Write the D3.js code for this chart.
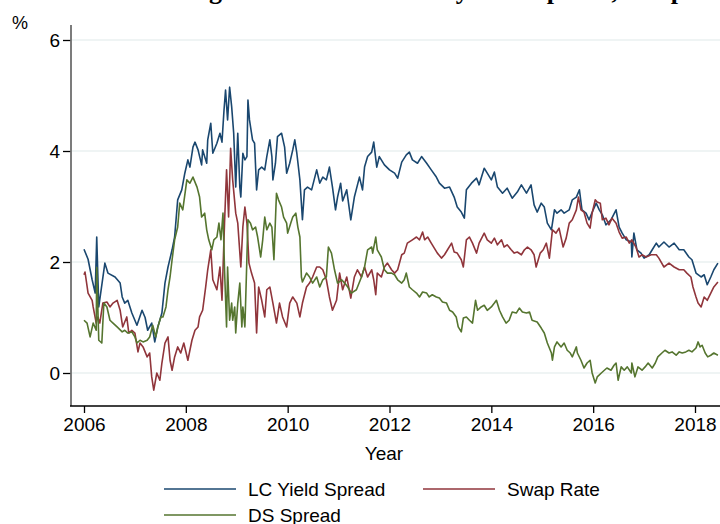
<!DOCTYPE html>
<html>
<head>
<meta charset="utf-8">
<script src="https://cdn.jsdelivr.net/npm/d3@7"></script>
<style>
  html, body { margin: 0; padding: 0; background: #ffffff; }
  svg { display: block; }
  text { font-family: "Liberation Sans", Arial, sans-serif; fill: #000; }
</style>
</head>
<body>
<svg id="chart" width="720" height="524"></svg>
<script>
// Weekly-sampled spreads, in percent; each entry is [decimal year, value].
const lcYieldSpread = [
  [2006.00,2.23],[2006.08,2.05],[2006.16,1.68],[2006.22,1.44],[2006.25,2.45],[2006.29,1.19],[2006.41,1.98],[2006.47,1.80],
  [2006.61,1.73],[2006.71,1.62],[2006.75,1.37],[2006.80,1.26],[2006.86,1.31],[2006.94,1.08],[2007.04,0.86],[2007.14,1.13],
  [2007.20,1.00],[2007.25,0.77],[2007.33,0.90],[2007.39,0.56],[2007.45,0.83],[2007.53,1.08],[2007.59,1.62],[2007.65,1.91],
  [2007.73,2.22],[2007.78,2.45],[2007.84,3.12],[2007.92,3.30],[2007.98,3.60],[2008.04,3.84],[2008.08,3.71],[2008.14,4.07],
  [2008.18,4.16],[2008.24,4.02],[2008.31,3.75],[2008.33,4.02],[2008.41,3.78],[2008.43,4.20],[2008.49,4.50],[2008.53,3.96],
  [2008.61,4.14],[2008.67,4.32],[2008.71,4.16],[2008.75,4.74],[2008.78,5.10],[2008.82,4.56],[2008.86,5.15],[2008.90,4.80],
  [2008.94,4.32],[2008.98,3.35],[2009.02,4.32],[2009.06,3.35],[2009.08,3.17],[2009.12,3.96],[2009.16,3.84],[2009.20,3.90],
  [2009.22,4.92],[2009.25,4.56],[2009.31,4.20],[2009.35,4.14],[2009.39,3.30],[2009.43,3.66],[2009.49,3.71],[2009.55,3.66],
  [2009.59,3.90],[2009.65,4.20],[2009.69,3.90],[2009.71,3.48],[2009.76,3.78],[2009.80,4.26],[2009.88,4.32],[2009.94,4.07],
  [2009.98,3.60],[2010.04,3.78],[2010.10,4.02],[2010.14,4.20],[2010.18,3.96],[2010.24,3.48],[2010.29,2.76],[2010.33,3.30],
  [2010.39,3.35],[2010.47,3.30],[2010.57,3.66],[2010.63,3.42],[2010.69,3.53],[2010.76,3.48],[2010.82,3.71],[2010.88,3.35],
  [2010.94,2.94],[2010.98,3.17],[2011.04,3.42],[2011.08,3.10],[2011.16,3.30],[2011.24,2.76],[2011.31,3.17],[2011.41,3.53],
  [2011.47,3.30],[2011.51,3.71],[2011.57,3.90],[2011.65,3.98],[2011.69,4.16],[2011.75,3.71],[2011.80,3.90],[2011.90,3.75],
  [2012.00,3.66],[2012.10,3.60],[2012.16,3.51],[2012.24,3.80],[2012.33,3.93],[2012.39,3.98],[2012.45,3.84],[2012.55,3.78],
  [2012.63,3.90],[2012.73,3.78],[2012.82,3.66],[2012.92,3.53],[2012.98,3.42],[2013.08,3.33],[2013.18,3.35],[2013.27,3.17],
  [2013.33,2.99],[2013.41,2.90],[2013.47,2.79],[2013.51,3.30],[2013.61,3.42],[2013.71,3.51],[2013.76,3.39],[2013.86,3.69],
  [2013.92,3.60],[2014.00,3.48],[2014.06,3.62],[2014.12,3.35],[2014.22,3.24],[2014.31,3.33],[2014.41,3.15],[2014.51,3.26],
  [2014.59,3.39],[2014.69,3.24],[2014.78,3.39],[2014.84,3.03],[2014.90,2.90],[2014.98,3.06],[2015.04,2.99],[2015.10,2.70],
  [2015.18,2.58],[2015.24,2.94],[2015.29,2.88],[2015.37,2.94],[2015.43,2.88],[2015.53,2.94],[2015.59,3.12],[2015.67,3.17],
  [2015.73,3.30],[2015.78,2.94],[2015.86,2.88],[2015.92,2.76],[2016.00,2.94],[2016.06,3.06],[2016.12,2.94],[2016.18,2.85],
  [2016.25,2.67],[2016.35,2.76],[2016.45,2.94],[2016.51,2.63],[2016.57,2.52],[2016.65,2.40],[2016.75,2.36],[2016.76,2.09],
  [2016.80,2.52],[2016.86,2.22],[2016.94,2.16],[2017.00,2.07],[2017.10,2.13],[2017.16,2.22],[2017.24,2.34],[2017.29,2.27],
  [2017.39,2.36],[2017.49,2.27],[2017.59,2.34],[2017.69,2.22],[2017.78,2.22],[2017.88,2.09],[2017.94,2.04],[2018.02,1.80],
  [2018.12,1.73],[2018.18,1.77],[2018.24,1.59],[2018.31,1.73],[2018.37,1.86],[2018.45,1.98]
];

const swapRate = [
  [2006.00,1.77],[2006.02,1.82],[2006.08,1.44],[2006.16,1.31],[2006.18,1.19],[2006.24,0.90],[2006.27,1.01],[2006.31,0.90],
  [2006.37,1.26],[2006.45,1.28],[2006.51,1.19],[2006.57,1.26],[2006.65,1.31],[2006.71,1.13],[2006.76,0.83],[2006.84,1.01],
  [2006.88,0.72],[2006.94,0.77],[2007.00,0.72],[2007.06,0.38],[2007.10,0.54],[2007.16,0.47],[2007.24,0.29],[2007.29,0.36],
  [2007.33,-0.07],[2007.37,-0.31],[2007.43,0.00],[2007.49,-0.13],[2007.53,0.18],[2007.59,0.54],[2007.65,0.65],[2007.69,0.23],
  [2007.73,0.05],[2007.78,0.29],[2007.84,0.47],[2007.90,0.36],[2007.96,0.54],[2008.04,0.23],[2008.12,0.59],[2008.18,0.77],
  [2008.24,0.83],[2008.27,1.01],[2008.33,1.13],[2008.39,1.55],[2008.43,1.86],[2008.49,2.22],[2008.53,1.68],[2008.61,1.50],
  [2008.67,1.91],[2008.71,1.31],[2008.76,2.70],[2008.80,3.66],[2008.84,2.81],[2008.88,4.05],[2008.92,3.48],[2008.98,2.88],
  [2009.02,2.70],[2009.08,1.91],[2009.12,2.63],[2009.16,2.99],[2009.20,2.70],[2009.24,1.98],[2009.29,1.80],[2009.35,1.62],
  [2009.39,0.72],[2009.43,1.55],[2009.49,1.31],[2009.55,1.01],[2009.59,1.50],[2009.65,1.55],[2009.71,1.26],[2009.78,0.90],
  [2009.84,1.26],[2009.90,1.01],[2009.98,0.83],[2010.04,1.26],[2010.10,1.37],[2010.18,1.26],[2010.24,1.01],[2010.29,1.26],
  [2010.37,1.55],[2010.43,1.62],[2010.49,1.73],[2010.57,1.91],[2010.63,1.91],[2010.69,1.86],[2010.76,1.68],[2010.82,1.37],
  [2010.88,1.13],[2010.96,1.31],[2011.02,1.80],[2011.08,1.50],[2011.16,1.73],[2011.24,1.35],[2011.31,1.73],[2011.37,1.86],
  [2011.45,1.73],[2011.51,1.91],[2011.57,1.73],[2011.65,1.86],[2011.69,1.68],[2011.73,1.41],[2011.76,1.80],[2011.84,1.73],
  [2011.90,1.91],[2011.96,1.98],[2012.04,1.86],[2012.10,1.80],[2012.16,1.86],[2012.24,2.13],[2012.29,2.16],[2012.35,2.34],
  [2012.45,2.40],[2012.53,2.45],[2012.59,2.40],[2012.65,2.54],[2012.69,2.40],[2012.75,2.45],[2012.82,2.34],[2012.88,2.25],
  [2012.94,2.16],[2013.02,2.07],[2013.08,2.13],[2013.14,2.22],[2013.22,2.34],[2013.27,2.18],[2013.33,2.16],[2013.41,2.04],
  [2013.45,1.91],[2013.51,2.40],[2013.57,2.45],[2013.63,2.34],[2013.71,2.16],[2013.76,2.34],[2013.86,2.52],[2013.92,2.40],
  [2014.00,2.34],[2014.06,2.43],[2014.12,2.31],[2014.20,2.40],[2014.25,2.27],[2014.31,2.31],[2014.39,2.22],[2014.45,2.16],
  [2014.51,2.18],[2014.59,2.13],[2014.65,2.22],[2014.71,2.27],[2014.78,2.22],[2014.84,2.13],[2014.88,1.91],[2014.96,2.16],
  [2015.02,2.22],[2015.08,2.34],[2015.14,2.07],[2015.20,2.58],[2015.27,2.52],[2015.33,2.61],[2015.41,2.27],[2015.47,2.43],
  [2015.53,2.70],[2015.59,2.76],[2015.67,2.94],[2015.71,3.17],[2015.76,2.94],[2015.82,2.90],[2015.88,2.70],[2015.94,2.61],
  [2015.98,2.88],[2016.04,3.12],[2016.08,3.08],[2016.14,3.06],[2016.18,2.76],[2016.25,2.79],[2016.31,2.67],[2016.37,2.79],
  [2016.45,2.70],[2016.51,2.54],[2016.57,2.43],[2016.65,2.45],[2016.71,2.34],[2016.76,2.40],[2016.84,2.27],[2016.90,2.09],
  [2016.96,2.13],[2017.04,2.09],[2017.14,2.13],[2017.24,2.13],[2017.29,2.07],[2017.39,1.91],[2017.49,1.98],[2017.59,1.91],
  [2017.69,1.86],[2017.78,1.86],[2017.84,1.80],[2017.92,1.73],[2017.96,1.55],[2018.02,1.37],[2018.06,1.26],[2018.12,1.19],
  [2018.18,1.37],[2018.24,1.31],[2018.31,1.44],[2018.37,1.55],[2018.45,1.64]
];

const dsSpread = [
  [2006.00,0.95],[2006.06,0.90],[2006.12,0.65],[2006.18,0.90],[2006.24,0.77],[2006.25,1.90],[2006.29,0.59],[2006.35,0.54],
  [2006.39,1.26],[2006.45,1.19],[2006.51,0.95],[2006.57,0.90],[2006.65,0.83],[2006.75,0.74],[2006.80,0.77],[2006.86,0.72],
  [2006.94,0.74],[2007.00,0.65],[2007.04,0.54],[2007.10,0.59],[2007.16,0.56],[2007.24,0.59],[2007.29,0.65],[2007.35,0.86],
  [2007.41,0.65],[2007.45,0.83],[2007.51,1.01],[2007.55,1.01],[2007.61,1.19],[2007.65,1.50],[2007.69,1.73],[2007.73,2.04],
  [2007.78,2.40],[2007.84,2.63],[2007.88,3.06],[2007.94,2.94],[2008.02,3.48],[2008.08,3.42],[2008.14,3.53],[2008.22,3.35],
  [2008.27,3.17],[2008.31,2.81],[2008.37,2.88],[2008.41,2.58],[2008.45,2.40],[2008.51,2.22],[2008.55,2.40],[2008.61,2.45],
  [2008.65,2.70],[2008.69,2.40],[2008.73,2.88],[2008.76,1.86],[2008.80,0.83],[2008.82,1.91],[2008.86,0.95],[2008.90,1.26],
  [2008.92,0.95],[2008.96,1.19],[2008.98,0.72],[2009.02,1.26],[2009.06,1.62],[2009.10,0.83],[2009.12,1.19],[2009.16,0.83],
  [2009.20,2.09],[2009.22,2.76],[2009.27,2.70],[2009.31,2.58],[2009.37,2.63],[2009.41,2.45],[2009.47,2.09],[2009.51,2.40],
  [2009.55,2.81],[2009.59,2.58],[2009.65,2.70],[2009.69,2.63],[2009.73,2.04],[2009.78,3.24],[2009.82,3.12],[2009.88,2.99],
  [2009.92,2.81],[2009.98,2.70],[2010.00,2.52],[2010.06,2.70],[2010.10,2.81],[2010.16,2.88],[2010.20,2.63],[2010.24,2.45],
  [2010.27,1.73],[2010.29,1.64],[2010.37,1.80],[2010.43,1.73],[2010.49,1.62],[2010.57,1.73],[2010.63,1.55],[2010.69,1.68],
  [2010.76,1.73],[2010.80,2.27],[2010.86,2.16],[2010.92,1.86],[2010.98,1.62],[2011.06,1.68],[2011.12,1.62],[2011.18,1.55],
  [2011.25,1.44],[2011.35,1.50],[2011.45,1.73],[2011.51,1.91],[2011.57,2.22],[2011.65,2.27],[2011.67,2.16],[2011.73,2.45],
  [2011.76,2.22],[2011.84,2.09],[2011.90,1.86],[2011.96,1.80],[2012.04,1.80],[2012.10,1.77],[2012.16,1.68],[2012.24,1.62],
  [2012.29,1.68],[2012.33,1.80],[2012.39,1.55],[2012.45,1.50],[2012.53,1.44],[2012.59,1.37],[2012.65,1.46],[2012.73,1.44],
  [2012.78,1.37],[2012.84,1.41],[2012.92,1.37],[2012.98,1.35],[2013.04,1.28],[2013.12,1.26],[2013.18,1.13],[2013.24,1.10],
  [2013.31,1.01],[2013.35,0.83],[2013.41,0.74],[2013.45,0.99],[2013.51,1.01],[2013.57,0.95],[2013.63,0.90],[2013.69,1.31],
  [2013.73,1.13],[2013.80,1.19],[2013.86,1.22],[2013.92,1.13],[2014.00,1.19],[2014.06,1.26],[2014.10,1.31],[2014.16,1.13],
  [2014.22,1.01],[2014.29,0.90],[2014.35,0.95],[2014.41,1.10],[2014.49,1.08],[2014.55,1.17],[2014.61,1.10],[2014.69,1.08],
  [2014.75,1.10],[2014.80,0.95],[2014.90,0.92],[2014.98,0.81],[2015.04,0.72],[2015.10,0.54],[2015.18,0.36],[2015.20,0.23],
  [2015.24,0.47],[2015.29,0.56],[2015.37,0.47],[2015.43,0.54],[2015.49,0.41],[2015.55,0.36],[2015.59,0.29],[2015.67,0.47],
  [2015.69,0.36],[2015.76,0.23],[2015.82,0.09],[2015.88,0.18],[2015.94,0.23],[2015.98,0.00],[2016.04,-0.18],[2016.08,-0.07],
  [2016.16,0.00],[2016.22,0.05],[2016.27,0.09],[2016.35,0.05],[2016.41,0.14],[2016.45,0.18],[2016.49,-0.13],[2016.55,0.11],
  [2016.61,0.05],[2016.67,0.11],[2016.75,0.00],[2016.76,0.18],[2016.82,-0.07],[2016.88,0.11],[2016.96,0.05],[2017.02,0.11],
  [2017.08,0.18],[2017.16,0.09],[2017.22,0.18],[2017.27,0.29],[2017.35,0.36],[2017.41,0.41],[2017.49,0.36],[2017.55,0.38],
  [2017.63,0.32],[2017.69,0.38],[2017.75,0.36],[2017.82,0.38],[2017.88,0.41],[2017.94,0.38],[2018.02,0.45],[2018.06,0.56],
  [2018.10,0.47],[2018.14,0.50],[2018.20,0.36],[2018.25,0.29],[2018.31,0.32],[2018.37,0.36],[2018.45,0.32]
];

const yearTicks = [2006, 2008, 2010, 2012, 2014, 2016, 2018];
const valueTicks = [0, 2, 4, 6];
const seriesNames = ["LC Yield Spread", "Swap Rate", "DS Spread"];
const seriesColors = ["#1a476f", "#90353b", "#55752f"];

const svg = d3.select("#chart");

// Plot area; the right edge runs past the window.
const x = d3.scaleLinear().domain([2006, 2018]).range([84, 695]);
const y = d3.scaleLinear().domain([0, 6]).range([373, 40]);
const plotLeft = 71, plotRight = 760, plotTop = 25, plotBottom = 406;

// Title (top of the canvas)
svg.append("text")
  .attr("x", 186)
  .attr("y", -1)
  .style("font-family", "'Liberation Serif', 'Times New Roman', serif")
  .style("font-weight", "bold")
  .style("font-size", "26px")
  .text("Figure 2: Local Currency Risk Spread, Swap Rate and DS Spread");

// Horizontal gridlines
svg.append("g")
  .selectAll("line")
  .data(valueTicks)
  .join("line")
  .attr("x1", plotLeft + 1)
  .attr("x2", plotRight)
  .attr("y1", d => y(d))
  .attr("y2", d => y(d))
  .attr("stroke", "#eaf0f1")
  .attr("stroke-width", 1.6);

// Y axis
const yAxis = d3.axisLeft(y).tickValues(valueTicks).tickSize(8).tickPadding(3).tickFormat(d3.format("d"));
const gy = svg.append("g").attr("transform", `translate(${plotLeft},0)`).call(yAxis);
gy.select(".domain").remove();
gy.selectAll(".tick line").attr("stroke", "#000").attr("stroke-width", 1.3);
gy.selectAll(".tick text").style("font-size", "19px").style("font-family", "'Liberation Sans', Arial, sans-serif").attr("fill", "#000");
svg.append("line")
  .attr("x1", plotLeft).attr("x2", plotLeft)
  .attr("y1", plotTop).attr("y2", plotBottom)
  .attr("stroke", "#6e6e6e").attr("stroke-width", 1.8);

// X axis
const xAxis = d3.axisBottom(x).tickValues(yearTicks).tickSize(7).tickPadding(5).tickFormat(d3.format("d"));
const gx = svg.append("g").attr("transform", `translate(0,${plotBottom})`).call(xAxis);
gx.select(".domain").remove();
gx.selectAll(".tick line").attr("stroke", "#000").attr("stroke-width", 1.3);
gx.selectAll(".tick text").style("font-size", "19px").style("font-family", "'Liberation Sans', Arial, sans-serif").attr("fill", "#000");
svg.append("line")
  .attr("x1", plotLeft - 1).attr("x2", plotRight)
  .attr("y1", plotBottom).attr("y2", plotBottom)
  .attr("stroke", "#000").attr("stroke-width", 1.5);

// Axis titles
svg.append("text").attr("x", 20).attr("y", 29).attr("text-anchor", "middle")
  .style("font-size", "18px").text("%");
svg.append("text").attr("x", 384).attr("y", 460).attr("text-anchor", "middle")
  .style("font-size", "19px").text("Year");

// Series lines
const line = d3.line().x(d => x(d[0])).y(d => y(d[1]));
[lcYieldSpread, swapRate, dsSpread].forEach((series, i) => {
  svg.append("path")
    .datum(series)
    .attr("fill", "none")
    .attr("stroke", seriesColors[i])
    .attr("stroke-width", 1.6)
    .attr("stroke-linejoin", "round")
    .attr("d", line);
});

// Legend
const legendPos = [[164, 489], [423, 489], [164, 515]];
const legend = svg.append("g");
seriesNames.forEach((name, i) => {
  const [lx, ly] = legendPos[i];
  legend.append("line")
    .attr("x1", lx).attr("x2", lx + 72)
    .attr("y1", ly).attr("y2", ly)
    .attr("stroke", seriesColors[i]).attr("stroke-width", 1.6);
  legend.append("text")
    .attr("x", lx + 84).attr("y", ly + 7)
    .style("font-size", "19px")
    .text(name);
});
</script>
</body>
</html>
